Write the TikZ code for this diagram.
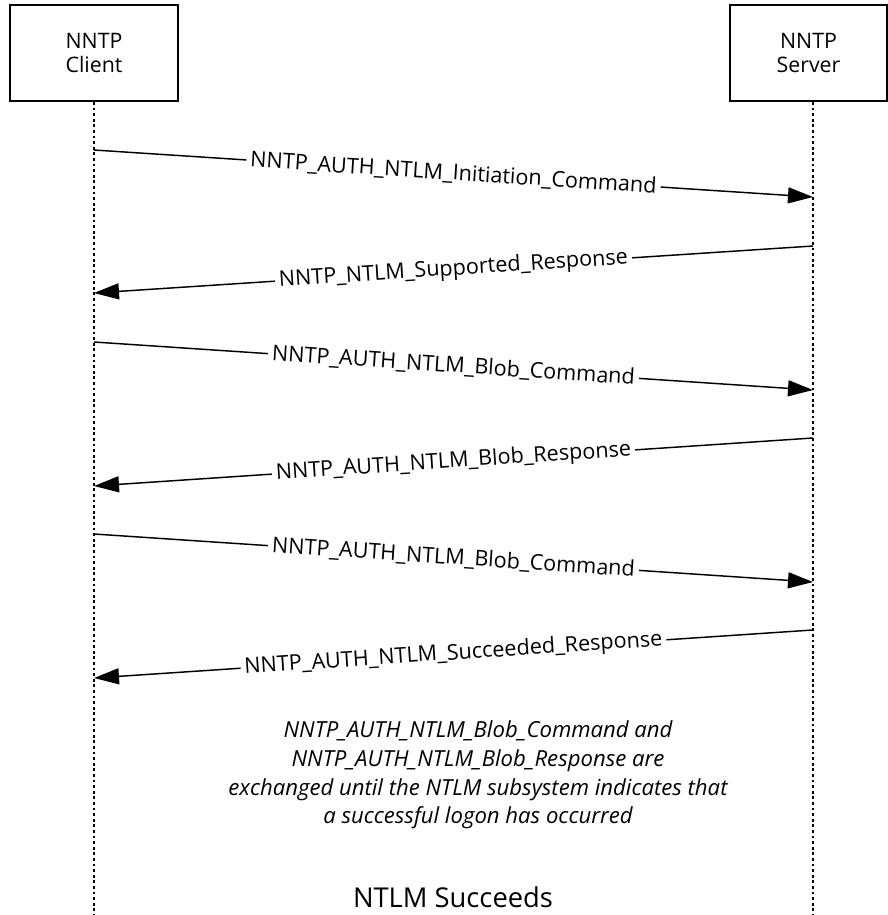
\documentclass[tikz,border=0pt]{standalone}
\usepackage{fontspec}
\setmainfont{Open Sans}
\usetikzlibrary{arrows.meta}
\usetikzlibrary{positioning}

\tikzset{
  actor/.style={draw, line width=1.4pt, minimum width=126pt, minimum height=72pt,
    align=center, font=\fontsize{16}{18.5}\selectfont},
  lifeline/.style={line width=1.5pt, dash pattern=on 2.2pt off 2pt},
  msg/.style={line width=1.1pt, -{Triangle[length=18.75pt, width=12pt]}},
  lbl/.style={midway, sloped, fill=white, inner sep=3pt, font=\fontsize{16.2}{19}\selectfont},
}

\begin{document}
\begin{tikzpicture}[x=0.75pt, y=-0.75pt]
  \useasboundingbox (0,0) rectangle (888,915);

  % actors
  \node[actor] (client) at (94,53) {NNTP\\Client};
  \node[actor, minimum width=117.75pt] (server) at (808.5,53) {NNTP\\Server};

  % lifelines
  \coordinate (cbot) at (94,915);
  \coordinate (sbot) at (813,915);
  \draw[lifeline] (client.south) -- (cbot);
  \draw[lifeline] (server.south -| sbot) -- (sbot);

  % message ends
  \coordinate (c1) at (94,150);  \coordinate (s1) at (813,197);
  \coordinate (s2) at (813,246); \coordinate (c2) at (94,293);
  \coordinate (c3) at (94,342);  \coordinate (s3) at (813,390);
  \coordinate (s4) at (813,438); \coordinate (c4) at (94,486);
  \coordinate (c5) at (94,534);  \coordinate (s5) at (813,582);
  \coordinate (s6) at (813,630); \coordinate (c6) at (94,678);

  \draw[msg] (c1) -- (s1) node[lbl]{NNTP\_AUTH\_NTLM\_Initiation\_Command};
  \draw[msg] (s2) -- (c2) node[lbl]{NNTP\_NTLM\_Supported\_Response};
  \draw[msg] (c3) -- (s3) node[lbl]{NNTP\_AUTH\_NTLM\_Blob\_Command};
  \draw[msg] (s4) -- (c4) node[lbl]{NNTP\_AUTH\_NTLM\_Blob\_Response};
  \draw[msg] (c5) -- (s5) node[lbl]{NNTP\_AUTH\_NTLM\_Blob\_Command};
  \draw[msg] (s6) -- (c6) node[lbl]{NNTP\_AUTH\_NTLM\_Succeeded\_Response};

  % note and result
  \node[align=center, font=\fontsize{16.6}{21.5}\selectfont\itshape] (note) at (478,775)
    {NNTP\_AUTH\_NTLM\_Blob\_Command and\\NNTP\_AUTH\_NTLM\_Blob\_Response are\\
     exchanged until the NTLM subsystem indicates that\\a successful logon has occurred};
  \node[font=\fontsize{20.5}{24}\selectfont] (result) at (453,897) {NTLM Succeeds};
\end{tikzpicture}
\end{document}
